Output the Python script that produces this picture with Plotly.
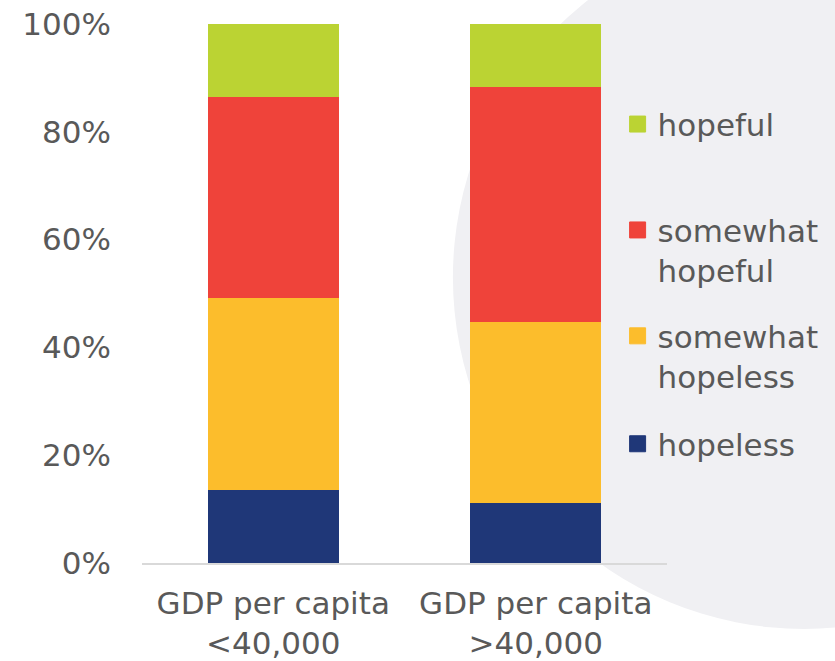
import plotly.graph_objects as go

categories = ["GDP per capita<br>&lt;40,000", "GDP per capita<br>&gt;40,000"]
series_names = ["hopeless", "somewhat hopeless", "somewhat hopeful", "hopeful"]
legend_labels = ["hopeless", "somewhat<br>hopeless", "somewhat<br>hopeful", "hopeful"]
hopeless = [13.5, 11.2]
somewhat_hopeless = [35.6, 33.5]
somewhat_hopeful = [37.3, 43.7]
hopeful = [13.6, 11.6]
y_ticks = [0, 20, 40, 60, 80, 100]
y_tick_labels = [f"{v}%" for v in y_ticks]

colors = ["#1F3778", "#FCBD2C", "#EF433A", "#BBD333"]
values = [hopeless, somewhat_hopeless, somewhat_hopeful, hopeful]

# plot area in pixels
L, R, T, B = 141.5, 667.5, 23.5, 563.0
W, H = 835, 661


def px_x(p):
    return (p - L) / (R - L)


def px_y(p):
    return (B - p) / (B - T)


fig = go.Figure()
legend_ids = ["legend4", "legend3", "legend2", "legend"]
for name, lab, col, vals, lid in zip(series_names, legend_labels, colors, values, legend_ids):
    fig.add_trace(go.Bar(x=categories, y=vals, name=name, marker=dict(color=col, line=dict(width=0)),
                         showlegend=False))
    fig.add_trace(go.Scatter(x=[None], y=[None], mode="markers", name=lab, legend=lid,
                             marker=dict(symbol="square", size=16, color=col, line=dict(width=1, color=col)),
                             showlegend=True))

font = dict(family="DejaVu Sans, Verdana, sans-serif", size=31, color="#595959")

# legend positions (marker centers in px)
leg_pos = {"legend": 124, "legend2": 231 + 19, "legend3": 337 + 19, "legend4": 444}
leg_common = dict(x=px_x(618), xanchor="left", yanchor="middle", bgcolor="rgba(0,0,0,0)",
                  font=font, valign="top", borderwidth=0)

layout_legends = {k: dict(leg_common, y=px_y(v)) for k, v in leg_pos.items()}

cx, cy, r = 805, 277, 352
fig.update_layout(
    width=W, height=H,
    margin=dict(l=L, r=W - R, t=T, b=H - B, autoexpand=False),
    paper_bgcolor="white", plot_bgcolor="rgba(0,0,0,0)",
    barmode="stack", bargap=0.5,
    font=font,
    showlegend=True,
    shapes=[dict(type="circle", xref="paper", yref="paper",
                 x0=px_x(cx - r), x1=px_x(cx + r), y0=px_y(cy + r), y1=px_y(cy - r),
                 fillcolor="#f0f0f3", line=dict(width=0), layer="below")],
    xaxis=dict(range=[-0.5, 1.5], showline=True, linecolor="#d9d9d9", linewidth=1.5,
               showgrid=False, zeroline=False, ticks="", tickfont=font, ticklabelstandoff=12,
               automargin=False),
    yaxis=dict(range=[0, 100], tickmode="array", tickvals=y_ticks, ticktext=y_tick_labels,
               showgrid=False, zeroline=False, automargin=False,
               showline=False, ticks="", tickfont=font, ticklabelstandoff=30),
    **layout_legends,
)

fig.write_html("out.html")
